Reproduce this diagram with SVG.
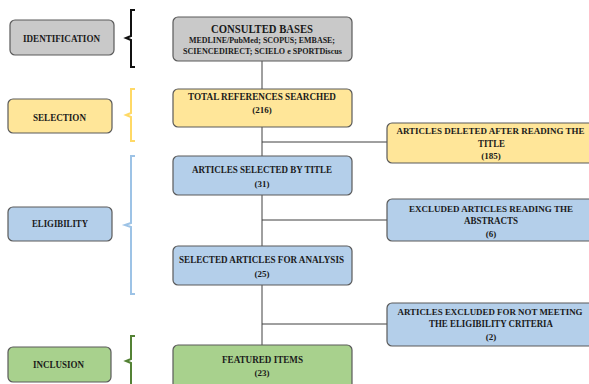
<svg xmlns="http://www.w3.org/2000/svg" width="589" height="384" viewBox="0 0 589 384">
<style>
.box{stroke:#5a5a5a;stroke-width:1.2}
.grey{fill:#c9c9c9}
.yellow{fill:#ffe699}
.blue{fill:#b4cfea}
.green{fill:#a8d18d}
text{font-family:"Liberation Serif","Times New Roman",serif;font-weight:bold;fill:#1a1a1a;text-anchor:middle}
.t{font-size:10.5px}
.r{font-size:9.2px}
.s{font-size:9px}
.brace{fill:none;stroke-width:2}
.conn{stroke:#404040;stroke-width:1;fill:none}
</style>
<rect width="589" height="384" fill="#ffffff"/>
<g id="connectors">
<path class="conn" d="M262 61V89M262 127V156M262 195V246M262 285V345M262 142H387M262 220H387M262 324H387"/>
</g>
<g id="braces">
<path class="brace" stroke="#111111" d="M135 10H131V36L126 38L131 40V67H135"/>
<path class="brace" stroke="#ffd966" d="M135 89H131V113L126 115L131 117V141H135"/>
<path class="brace" stroke="#9dc3e6" d="M135 156H131V223L125 225L131 227V294H135"/>
<path class="brace" stroke="#548235" d="M135 336H131V359L126 361L131 363V390"/>
</g>
<g id="identification">
<rect class="box grey" x="10" y="20" width="104" height="35" rx="5"/>
<text class="t" x="61.5" y="42" textLength="77" lengthAdjust="spacingAndGlyphs">IDENTIFICATION</text>
</g>
<g id="selection">
<rect class="box yellow" x="8" y="99" width="104" height="34" rx="5"/>
<text class="t" x="59.5" y="121" textLength="53" lengthAdjust="spacingAndGlyphs">SELECTION</text>
</g>
<g id="eligibility">
<rect class="box blue" x="8" y="207" width="104" height="34" rx="5"/>
<text class="t" x="60" y="227" textLength="56" lengthAdjust="spacingAndGlyphs">ELIGIBILITY</text>
</g>
<g id="inclusion">
<rect class="box green" x="8" y="347" width="103" height="35" rx="5"/>
<text class="t" x="58.5" y="368" textLength="51" lengthAdjust="spacingAndGlyphs">INCLUSION</text>
</g>
<g id="consulted">
<rect class="box grey" x="173" y="17" width="179" height="44" rx="5"/>
<text x="262" y="33" style="font-size:13px" textLength="102" lengthAdjust="spacingAndGlyphs">CONSULTED BASES</text>
<text x="262" y="43" style="font-size:8.5px" textLength="146" lengthAdjust="spacingAndGlyphs">MEDLINE/PubMed; SCOPUS; EMBASE;</text>
<text x="262.5" y="54" style="font-size:8.5px" textLength="159" lengthAdjust="spacingAndGlyphs">SCIENCEDIRECT; SCIELO e SPORTDiscus</text>
</g>
<g id="total">
<rect class="box yellow" x="173" y="89" width="179" height="38" rx="5"/>
<text class="t" x="262" y="100" textLength="148" lengthAdjust="spacingAndGlyphs">TOTAL REFERENCES SEARCHED</text>
<text class="s" x="262" y="113">(216)</text>
</g>
<g id="deleted">
<rect class="box yellow" x="387" y="123" width="212" height="40" rx="5"/>
<text class="r" x="490.5" y="134" textLength="188" lengthAdjust="spacingAndGlyphs">ARTICLES DELETED AFTER READING THE</text>
<text class="t" x="491.5" y="147" textLength="27" lengthAdjust="spacingAndGlyphs">TITLE</text>
<text class="s" x="491" y="159">(185)</text>
</g>
<g id="bytitle">
<rect class="box blue" x="173" y="156" width="179" height="39" rx="5"/>
<text class="t" x="262" y="173" textLength="140" lengthAdjust="spacingAndGlyphs">ARTICLES SELECTED BY TITLE</text>
<text class="s" x="262" y="187">(31)</text>
</g>
<g id="abstracts">
<rect class="box blue" x="387" y="199" width="212" height="42" rx="5"/>
<text class="r" x="491" y="212" textLength="164" lengthAdjust="spacingAndGlyphs">EXCLUDED ARTICLES READING THE</text>
<text class="t" x="491" y="224" textLength="54" lengthAdjust="spacingAndGlyphs">ABSTRACTS</text>
<text class="s" x="491" y="237">(6)</text>
</g>
<g id="analysis">
<rect class="box blue" x="173" y="246" width="179" height="39" rx="5"/>
<text class="t" x="261.5" y="263" textLength="165" lengthAdjust="spacingAndGlyphs">SELECTED ARTICLES FOR ANALYSIS</text>
<text class="s" x="262" y="277">(25)</text>
</g>
<g id="notmeeting">
<rect class="box blue" x="387" y="303" width="212" height="43" rx="5"/>
<text class="r" x="490" y="315" textLength="185" lengthAdjust="spacingAndGlyphs">ARTICLES EXCLUDED FOR NOT MEETING</text>
<text class="t" x="491" y="327" textLength="124" lengthAdjust="spacingAndGlyphs">THE ELIGIBILITY CRITERIA</text>
<text class="s" x="491" y="340">(2)</text>
</g>
<g id="featured">
<rect class="box green" x="173" y="345" width="179" height="45" rx="5"/>
<text class="t" x="262.5" y="363" textLength="81" lengthAdjust="spacingAndGlyphs">FEATURED ITEMS</text>
<text class="s" x="262" y="376">(23)</text>
</g>
</svg>
